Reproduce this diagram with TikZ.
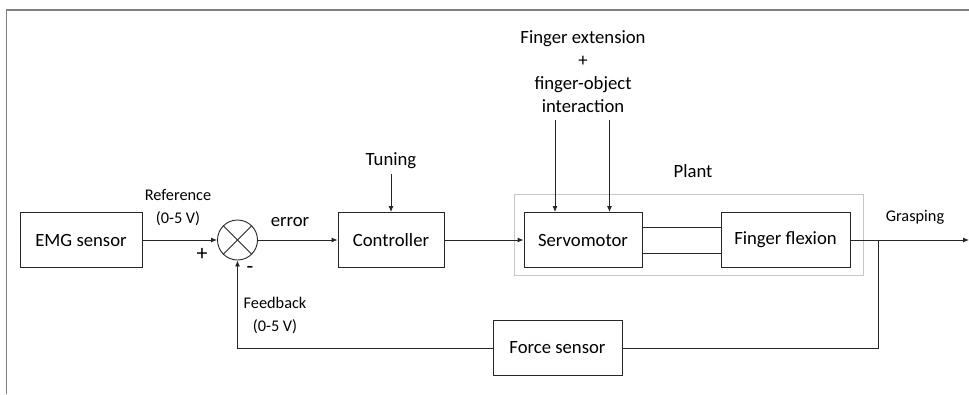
\documentclass[tikz,border=0pt]{standalone}
\usepackage{fontspec}
\setmainfont{Carlito}
\usetikzlibrary{arrows.meta}
\tikzset{
  blk/.style={draw=black!85, line width=0.9pt, fill=white, font=\fontsize{18.7}{21}\selectfont,
    minimum height=55pt, inner sep=0pt},
  lbl/.style={font=\fontsize{18.7}{23}\selectfont, inner sep=0pt, align=center},
  sml/.style={font=\fontsize{16.3}{23}\selectfont, inner sep=0pt, align=center},
  sgn/.style={font=\fontsize{22}{24}\selectfont, inner sep=0pt},
  wire/.style={draw=black!85, line width=0.9pt},
  arr/.style={wire, -{Latex[length=6pt,width=5pt]}},
}
\begin{document}
\begin{tikzpicture}[x=1pt,y=-1pt]
  \useasboundingbox (0,0) rectangle (969,394);
  % outer frame (top and left edges)
  \draw[draw=black!50, line width=1.6pt] (969,10) -- (6.5,10) -- (6.5,394);

  % plant enclosure
  \node[draw=black!22, line width=1pt, minimum width=349pt, minimum height=81pt, inner sep=0pt]
    (plant) at (688.5,234.5) {};
  \node[lbl] (plantlbl) at (693,171) {Plant};

  % blocks
  \node[blk, minimum width=122pt] (emg) at (81,240) {EMG sensor};
  \node[draw=black!85, line width=0.9pt, circle, minimum size=40pt, inner sep=0pt] (sum) at (237.5,240) {};
  \draw[wire] (sum.north east) -- (sum.south west);
  \draw[wire] (sum.north west) -- (sum.south east);
  \node[blk, minimum width=106pt] (ctrl) at (391,240) {Controller};
  \node[blk, minimum width=118pt] (servo) at (583,240) {Servomotor};
  \node[blk, minimum width=129pt] (flex) at (785.5,240) {Finger flexion};
  \node[blk, minimum width=129pt] (force) at (557.5,348) {Force sensor};

  % labels
  \node[sml] (ref) at (178,208) {Reference\\(0-5 V)};
  \node[sgn] (plus) at (202,254) {+};
  \node[sgn] (minus) at (250,270) {-};
  \node[lbl] (err) at (290,222) {error};
  \node[sml] (fb) at (275,315) {Feedback\\(0-5 V)};
  \node[lbl] (tune) at (391,161) {Tuning};
  \node[lbl] (dist) at (583,72) {Finger extension\\+\\finger-object\\interaction};
  \node[sml] (grasp) at (915,217) {Grasping};

  % coordinates for connector corners
  \coordinate (out) at (969,240);
  \coordinate (branch) at (878,240);
  \coordinate (tunetop) at (391,174);
  \coordinate (d1) at (555,120);
  \coordinate (d2) at (609.5,120);

  % signal path
  \draw[arr] (emg) -- (sum);
  \draw[arr] (sum) -- (ctrl);
  \draw[arr] (ctrl) -- (servo);
  \draw[wire] ([yshift=-13pt]servo.east) -- ([yshift=-13pt]flex.west);
  \draw[wire] ([yshift=13pt]servo.east) -- ([yshift=13pt]flex.west);
  \draw[arr] (flex) -- (out);
  \draw[arr] (tunetop) -- (ctrl);
  \draw[arr] (d1) -- (d1 |- servo.north);
  \draw[arr] (d2) -- (d2 |- servo.north);

  % feedback loop
  \draw[wire] (branch) |- (force);
  \draw[arr] (force) -| (sum);
\end{tikzpicture}
\end{document}
